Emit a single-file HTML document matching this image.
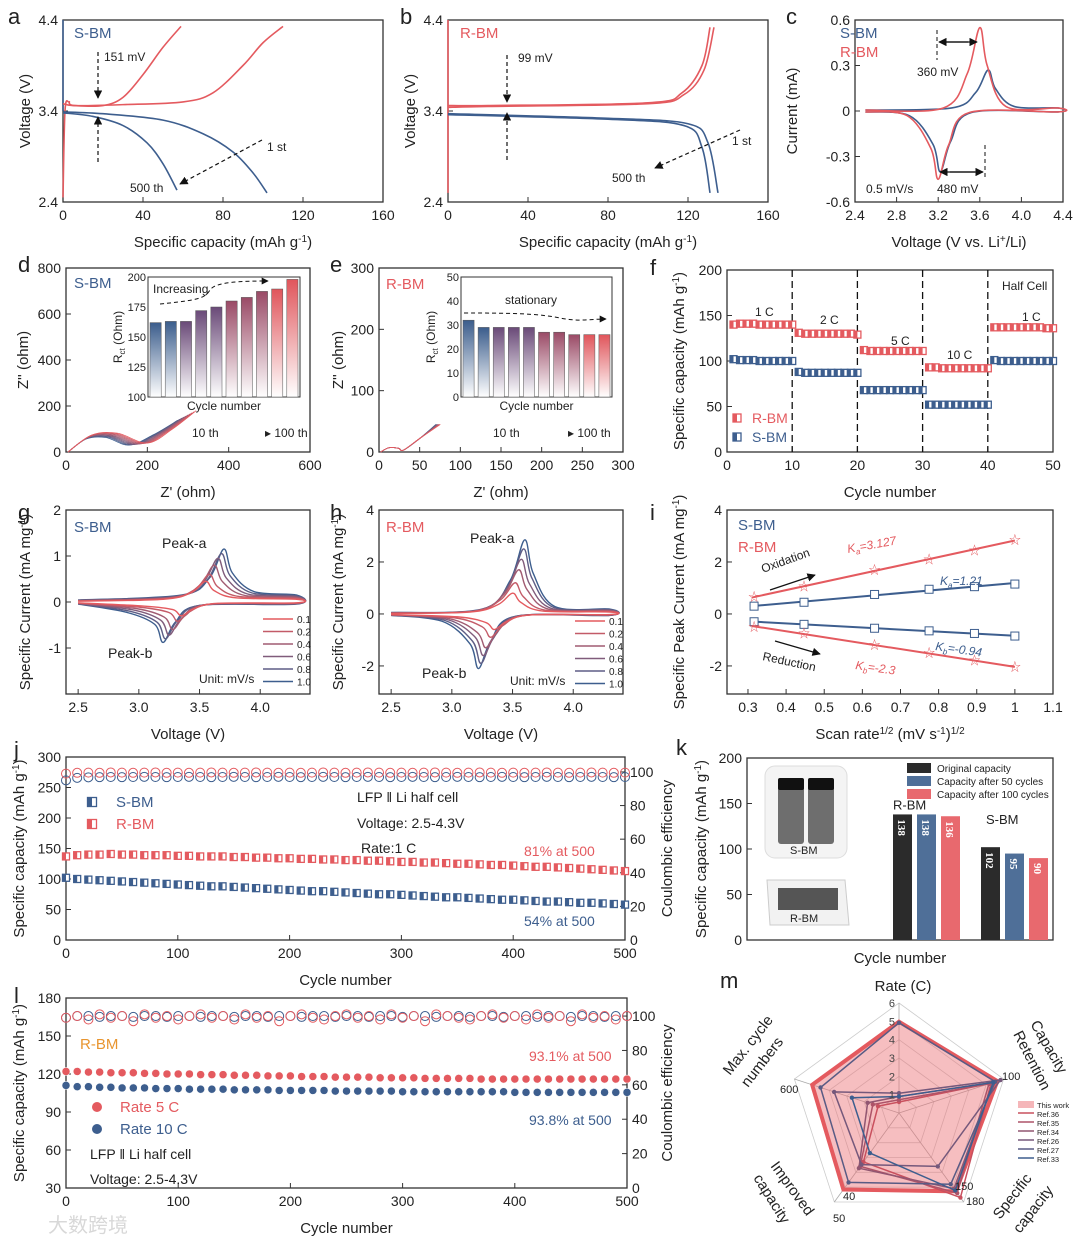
<!DOCTYPE html>
<html><head><meta charset="utf-8"><style>
html,body{margin:0;padding:0;background:#fff;}
svg{display:block;font-family:"Liberation Sans","Noto Sans CJK SC",sans-serif;}
</style></head><body>
<svg id="fig" width="1080" height="1245" viewBox="0 0 1080 1245">
<defs>
<marker id="ah" viewBox="0 0 10 10" refX="9" refY="5" markerWidth="7" markerHeight="7" orient="auto"><path d="M0,0L10,5L0,10z" fill="#111"/></marker>
<linearGradient id="gb" x1="0" y1="0" x2="0" y2="1"><stop offset="0" stop-color="#3b5d8c"/><stop offset="1" stop-color="#fff"/></linearGradient>
<linearGradient id="gp" x1="0" y1="0" x2="0" y2="1"><stop offset="0" stop-color="#6a4a78"/><stop offset="1" stop-color="#fff"/></linearGradient>
<linearGradient id="gm" x1="0" y1="0" x2="0" y2="1"><stop offset="0" stop-color="#9a4a66"/><stop offset="1" stop-color="#fff"/></linearGradient>
<linearGradient id="gr" x1="0" y1="0" x2="0" y2="1"><stop offset="0" stop-color="#e0555b"/><stop offset="1" stop-color="#fff"/></linearGradient>
</defs>
</svg>
<script>
// ---------- data ----------
const aChg1=[[0,2.45],[1,3.4],[3,3.5],[6,3.46],[30,3.47],[60,3.5],[75,3.6],[90,3.9],[100,4.15],[110,4.33]];
const aChg500=[[0,3.48],[5,3.46],[20,3.46],[30,3.55],[40,3.8],[50,4.1],[59,4.33]];
const aDis1=[[0,3.39],[20,3.37],[50,3.3],[70,3.15],[85,2.95],[95,2.72],[102,2.5]];
const aDis500=[[0,3.38],[15,3.34],[30,3.24],[42,3.05],[50,2.82],[57,2.53]];
const bChg1=[[0,3.44],[20,3.45],[100,3.48],[118,3.58],[128,3.85],[133,4.32]];
const bChg500=[[0,3.46],[20,3.46],[100,3.49],[117,3.6],[127,3.9],[131,4.32]];
const bDis1=[[0,3.37],[80,3.32],[120,3.26],[130,3.05],[135,2.5]];
const bDis500=[[0,3.36],[80,3.31],[118,3.24],[127,3.0],[131,2.5]];
const cRed=[3.6,0.55,3.2,-0.45];
const cBlue=[3.68,0.27,3.22,-0.40];
const dRct=[162,163,163,172,175,180,183,188,190,198];
const eRct=[32,29,29,29,29,27,27,26,26,26];
const dArc=[150,155,160,165,170,175,180,185,190,195];
const fR=[140,141,141,141,140,140,140,140,140,140,131,130,130,130,130,130,130,130,130,129,112,111,111,111,111,111,111,111,111,111,93,93,92,92,92,92,92,92,92,92,137,137,137,137,137,137,137,137,136,136];
const fS=[102,101,101,101,100,100,100,100,100,100,88,87,87,87,87,87,87,87,87,87,68,68,68,68,68,68,68,68,68,68,52,52,52,52,52,52,52,52,52,52,101,100,100,100,100,100,100,100,100,100];
const rates=['0.1','0.2','0.4','0.6','0.8','1.0'];
const gVa=[3.55,3.58,3.62,3.65,3.68,3.70], gIa=[0.45,0.6,0.8,0.95,1.05,1.15];
const gVc=[3.35,3.32,3.28,3.25,3.22,3.20], gIc=[-0.3,-0.42,-0.6,-0.72,-0.8,-0.88];
const hVa=[3.50,3.52,3.55,3.57,3.59,3.60], hIa=[0.8,1.2,1.7,2.1,2.5,2.85];
const hVc=[3.35,3.32,3.28,3.26,3.24,3.22], hIc=[-0.6,-0.9,-1.3,-1.6,-1.9,-2.1];
const iX=[0.316,0.447,0.632,0.775,0.894,1.0];
const iOxR=[0.65,1.05,1.7,2.1,2.45,2.85], iOxS=[0.3,0.45,0.75,0.95,1.05,1.15];
const iRdS=[-0.3,-0.4,-0.55,-0.65,-0.75,-0.85], iRdR=[-0.5,-0.75,-1.2,-1.5,-1.8,-2.05];
const jR=[137,139,140,140,141,140,140,139,139,139,138,138,137,137,137,136,136,135,135,134,134,133,133,132,132,131,131,130,130,129,128,128,127,127,126,125,125,124,123,123,122,121,120,120,119,118,117,116,115,114,113];
const jS=[102,100,99,98,97,96,95,94,93,92,91,90,89,88,88,87,86,85,84,83,82,81,80,80,79,78,77,76,75,75,74,73,72,71,70,70,69,68,67,66,66,65,64,63,63,62,61,61,60,59,58];
const jCER=[99,99.5,99.6,99.5,99.7,99.6,99.5,99.6,99.7,99.5,99.6,99.5,99.6,99.7,99.6,99.5,99.6,99.7,99.6,99.5,99.6,99.5,99.6,99.7,99.6,99.5,99.6,99.7,99.6,99.5,99.6,99.5,99.6,99.7,99.6,99.5,99.6,99.7,99.6,99.5,99.6,99.5,99.6,99.7,99.6,99.5,99.6,99.7,99.6,99.5,99.6];
const jCES=[95,96.5,96.8,96.9,97,96.9,97,97.1,97,96.9,97,97.1,97,96.9,97,97.1,97,96.9,97,97.1,97,96.9,97,97.1,97,96.9,97,97.1,97,96.9,97,97.1,97,96.9,97,97.1,97,96.9,97,97.1,97,96.9,97,97.1,97,96.9,97,97.1,97,96.9,97];
const lR=[122,122,121.5,121.5,121,121,121,120.5,120.5,120,120,120,119.5,119.5,119.5,119,119,119,118.5,118.5,118.5,118,118,118,117.5,117.5,117.5,117.5,117,117,117,117,116.5,116.5,116.5,116.5,116.5,116,116,116,116,116,116,116,116,116,116,116,116,116,116];
const lS=[111,110,110,109.5,109.5,109,109,109,108.5,108.5,108.5,108,108,108,108,107.5,107.5,107.5,107.5,107,107,107,107,107,106.5,106.5,106.5,106.5,106.5,106.5,106,106,106,106,106,106,106,106,106,106,105.5,105.5,105.5,105.5,105.5,105.5,105.5,105.5,105.5,105.5,105.5];
const lCER=[99,100,98,101,99,100,97,101,99,100,98,100,101,99,100,98,101,99,100,97,100,101,99,98,100,101,99,100,98,101,99,100,97,101,100,99,98,100,101,99,100,98,101,99,100,97,101,99,100,98,100];
const lCES=[99,100,100,99.5,100,100,99.5,100,100,99.5,100,100,99.5,100,100,99.5,100,100,99.5,100,100,99.5,100,100,99.5,100,100,99.5,100,100,99.5,100,100,99.5,100,100,99.5,100,100,99.5,100,100,99.5,100,100,99.5,100,100,99.5,100,100];
const kGroups=['R-BM','S-BM'];
const kOrig=[138,102], k50=[138,95], k100=[136,90];
const mAxes=['Rate (C)','Capacity Retention','Specific capacity','Improved capacity','Max. cycle numbers'];
const mNames=['This work','Ref.36','Ref.35','Ref.34','Ref.26','Ref.27','Ref.33'];
const mVals=[[0.83,0.94,0.88,0.86,0.83],[0.1,0.88,0.95,0.55,0.2],[0.12,0.86,0.9,0.6,0.25],[0.15,0.9,0.85,0.62,0.3],[0.18,0.97,0.6,0.58,0.62],[0.82,0.92,0.8,0.78,0.75],[0.15,0.9,0.87,0.45,0.45]];

// ---------- helpers ----------
const NS='http://www.w3.org/2000/svg';
const svg=document.getElementById('fig');
const RED='#e45a5f', BLUE='#3d5e8e';
function mk(tag,at,par){const e=document.createElementNS(NS,tag);for(const k in at)e.setAttribute(k,at[k]);(par||svg).appendChild(e);return e;}
function txt(x,y,s,at,par){const t=mk('text',Object.assign({x:x,y:y,'font-size':14,fill:'#222'},at||{}),par);t.innerHTML=s;return t;}
function lin(d,r){return v=>r[0]+(v-d[0])/(d[1]-d[0])*(r[1]-r[0]);}
function smooth(p){let d='M'+p[0][0]+','+p[0][1];for(let i=0;i<p.length-1;i++){const p0=p[i-1]||p[i],p1=p[i],p2=p[i+1],p3=p[i+2]||p2;
d+=' C'+(p1[0]+(p2[0]-p0[0])/6)+','+(p1[1]+(p2[1]-p0[1])/6)+' '+(p2[0]-(p3[0]-p1[0])/6)+','+(p2[1]-(p3[1]-p1[1])/6)+' '+p2[0]+','+p2[1];}return d;}
const SUP=s=>'<tspan baseline-shift="super" font-size="10">'+s+'</tspan>';
function panel(name,letter,lx,ly,p){
 const g=mk('g',{});
 
 
 const sx=lin(p.xd,[p.x0,p.x1]), sy=lin(p.yd,[p.y1,p.y0]);
 const sy2=p.y2d?lin(p.y2d,[p.y1,p.y0]):null;
 mk('rect',{x:p.x0,y:p.y0,width:p.x1-p.x0,height:p.y1-p.y0,fill:'none',stroke:'#333','stroke-width':1.3},g);
 (p.xt||[]).forEach(v=>{const x=sx(v);mk('line',{x1:x,x2:x,y1:p.y1,y2:p.y1-5,stroke:'#333'},g);txt(x,p.y1+18,p.xf?p.xf(v):String(v),{'text-anchor':'middle'},g);});
 (p.yt||[]).forEach(v=>{const y=sy(v);mk('line',{x1:p.x0,x2:p.x0+5,y1:y,y2:y,stroke:'#333'},g);txt(p.x0-5,y+5,p.yf?p.yf(v):String(v),{'text-anchor':'end'},g);});
 if(sy2)(p.y2t||[]).forEach(v=>{const y=sy2(v);mk('line',{x1:p.x1,x2:p.x1-5,y1:y,y2:y,stroke:'#333'},g);txt(p.x1+5,y+5,String(v),{},g);});
 if(p.xlab)txt((p.x0+p.x1)/2,p.y1+45,p.xlab,{'text-anchor':'middle','font-size':15},g);
 if(p.ylab)txt(0,0,p.ylab,{'text-anchor':'middle','font-size':15,transform:'translate('+p.ylx+','+(p.y0+p.y1)/2+') rotate(-90)'},g);
 if(p.y2lab)txt(0,0,p.y2lab,{'text-anchor':'middle','font-size':15,transform:'translate('+p.y2x+','+(p.y0+p.y1)/2+') rotate(-90)'},g);
 const L=txt(lx,ly,letter,{'font-size':22},g);
 
 
 return {sx:sx,sy:sy,sy2:sy2,g:g};
}
function curve(P,pts,col,w,name){const e=mk('path',{d:smooth(pts.map(q=>[P.sx(q[0]),P.sy(q[1])])),fill:'none',stroke:col,'stroke-width':w||1.6},P.g);
 
 return e;}
function arrow(g,x1,y1,x2,y2,dash){mk('line',{x1:x1,y1:y1,x2:x2,y2:y2,stroke:'#111','stroke-width':1.2,'stroke-dasharray':dash?'4,3':'none','marker-end':'url(#ah)'},g);}
function mix(a,b,t){const pa=[parseInt(a.substr(1,2),16),parseInt(a.substr(3,2),16),parseInt(a.substr(5,2),16)],pb=[parseInt(b.substr(1,2),16),parseInt(b.substr(3,2),16),parseInt(b.substr(5,2),16)];return 'rgb('+pa.map((v,i)=>Math.round(v+(pb[i]-v)*t)).join(',')+')';}
const f1=v=>v.toFixed(1);

// ---------- a ----------
let P=panel('panel-a-charge-discharge-sbm','a',8,24,{x0:63,x1:383,y0:20,y1:202,xd:[0,160],yd:[2.4,4.4],xt:[0,40,80,120,160],yt:[2.4,3.4,4.4],yf:f1,xlab:'Specific capacity (mAh g'+SUP('-1')+')',ylab:'Voltage (V)',ylx:30});
mk('line',{x1:P.sx(0),x2:P.sx(0),y1:P.sy(4.4),y2:P.sy(3.4),stroke:BLUE,'stroke-width':1.6},P.g);
curve(P,aChg1,RED,1.6,'sbm-charge-1st');curve(P,aChg500,RED,1.6,'sbm-charge-500th');
curve(P,aDis1,BLUE,1.6,'sbm-discharge-1st');curve(P,aDis500,BLUE,1.6,'sbm-discharge-500th');
txt(74,38,'S-BM',{fill:BLUE,'font-size':15},P.g);txt(104,61,'151 mV',{'font-size':12},P.g);
arrow(P.g,98,52,98,98,true);arrow(P.g,98,162,98,117,true);
txt(267,151,'1 st',{'font-size':12},P.g);txt(130,192,'500 th',{'font-size':12},P.g);arrow(P.g,262,140,180,184,true);

// ---------- b ----------
P=panel('panel-b-charge-discharge-rbm','b',400,24,{x0:448,x1:768,y0:20,y1:202,xd:[0,160],yd:[2.4,4.4],xt:[0,40,80,120,160],yt:[2.4,3.4,4.4],yf:f1,xlab:'Specific capacity (mAh g'+SUP('-1')+')',ylab:'Voltage (V)',ylx:415});
mk('line',{x1:P.sx(0),x2:P.sx(0),y1:P.sy(4.4),y2:P.sy(2.5),stroke:RED,'stroke-width':1.6},P.g);
curve(P,bChg1,RED,1.6,'rbm-charge-1st');curve(P,bChg500,RED,1.6,'rbm-charge-500th');
curve(P,bDis1,BLUE,1.6,'rbm-discharge-1st');curve(P,bDis500,BLUE,1.6,'rbm-discharge-500th');
txt(460,38,'R-BM',{fill:RED,'font-size':15},P.g);txt(518,62,'99 mV',{'font-size':12},P.g);
arrow(P.g,507,55,507,102,true);arrow(P.g,507,160,507,113,true);
txt(732,145,'1 st',{'font-size':12},P.g);txt(612,182,'500 th',{'font-size':12},P.g);arrow(P.g,740,130,655,168,true);

// ---------- c ----------
P=panel('panel-c-cv','c',786,24,{x0:855,x1:1063,y0:20,y1:202,xd:[2.4,4.4],yd:[-0.6,0.6],xt:[2.4,2.8,3.2,3.6,4.0,4.4],xf:f1,yt:[-0.6,-0.3,0,0.3,0.6],xlab:'Voltage (V vs. Li'+SUP('+')+'/Li)',ylab:'Current (mA)',ylx:797});
function cvPts(Va,Ia,Vc,Ic,lo,hi,b){return [[lo,b*0.3],[Va-0.35,b],[Va-0.12,Ia*0.45],[Va,Ia],[Va+0.07,Ia*0.55],[Va+0.25,b*1.5],[hi,b],[hi,-b*0.3],[Vc+0.3,-b*0.5],[Vc+0.1,Ic*0.5],[Vc,Ic],[Vc-0.07,Ic*0.55],[Vc-0.3,-b*1.5],[lo,-b*0.3]];}
curve(P,cvPts(cBlue[0],cBlue[1],cBlue[2],cBlue[3],2.5,4.35,0.02),BLUE,1.6,'cv-sbm');
curve(P,cvPts(cRed[0],cRed[1],cRed[2],cRed[3],2.5,4.35,0.02),RED,1.6,'cv-rbm');
txt(840,38,'S-BM',{fill:BLUE,'font-size':15},P.g);txt(840,57,'R-BM',{fill:RED,'font-size':15},P.g);
txt(917,76,'360 mV',{'font-size':12},P.g);txt(937,193,'480 mV',{'font-size':12},P.g);txt(866,193,'0.5 mV/s',{'font-size':12},P.g);
mk('line',{x1:937,x2:937,y1:30,y2:60,stroke:'#111','stroke-dasharray':'4,3'},P.g);arrow(P.g,945,42,977,42);arrow(P.g,968,42,939,42);
mk('line',{x1:985,x2:985,y1:145,y2:180,stroke:'#111','stroke-dasharray':'4,3'},P.g);arrow(P.g,950,172,983,172);arrow(P.g,975,172,940,172);

// ---------- d ----------
P=panel('panel-d-nyquist-sbm','d',18,272,{x0:66,x1:310,y0:268,y1:452,xd:[0,600],yd:[0,800],xt:[0,200,400,600],yt:[0,200,400,600,800],xlab:"Z' (ohm)",ylab:"Z'' (ohm)",ylx:28});
dArc.forEach((r,i)=>{const c=mix('#3d5e8e','#e45a5f',i/9);const x0=5,xm=x0+r;
 const e=mk('path',{d:smooth([[P.sx(x0),P.sy(0)],[P.sx(x0+r*0.3),P.sy(r*0.38)],[P.sx(x0+r*0.62),P.sy(r*0.42)],[P.sx(xm),P.sy(r*0.2)],[P.sx(xm+60),P.sy(r*0.5)],[P.sx(xm+120),P.sy(r*0.92)]]),fill:'none',stroke:c,'stroke-width':0.8},P.g);
 
 });
txt(74,288,'S-BM',{fill:BLUE,'font-size':15},P.g);txt(192,437,'10 th',{'font-size':12},P.g);txt(265,437,'▸ 100 th',{'font-size':12},P.g);
function inset(g,x0,x1,y0,y1,yd,yt,vals){const sy=lin(yd,[y1,y0]);mk('rect',{x:x0,y:y0,width:x1-x0,height:y1-y0,fill:'#fff',stroke:'#333'},g);
 const bw=(x1-x0)/vals.length;vals.forEach((v,i)=>{const f=['url(#gb)','url(#gb)','url(#gp)','url(#gp)','url(#gp)','url(#gm)','url(#gm)','url(#gm)','url(#gr)','url(#gr)'][i];
 const b=mk('rect',{x:x0+i*bw+2,y:sy(v),width:bw-4,height:y1-sy(v),fill:f,stroke:'#555','stroke-width':0.5},g);
 
 });
 yt.forEach(v=>txt(x0-2,sy(v)+4,String(v),{'text-anchor':'end','font-size':11},g));
 txt((x0+x1)/2,y1+13,'Cycle number',{'text-anchor':'middle','font-size':12},g);
 txt(0,0,'R<tspan font-size="8" dy="3">ct</tspan><tspan dy="-3"> (Ohm)</tspan>',{'text-anchor':'middle','font-size':12,transform:'translate('+(x0-26)+','+(y0+y1)/2+') rotate(-90)'},g);}
inset(P.g,148,300,277,397,[100,200],[100,125,150,175,200],dRct);
txt(153,293,'Increasing',{'font-size':12},P.g);
mk('path',{d:'M160,304 C200,300 205,298 210,290 S240,281 268,281',fill:'none',stroke:'#111','stroke-dasharray':'4,3','marker-end':'url(#ah)'},P.g);

// ---------- e ----------
P=panel('panel-e-nyquist-rbm','e',330,272,{x0:379,x1:623,y0:268,y1:452,xd:[0,300],yd:[0,300],xt:[0,50,100,150,200,250,300],yt:[0,100,200,300],xlab:"Z' (ohm)",ylab:"Z'' (ohm)",ylx:343});
dArc.forEach((r,i)=>{const c=mix('#3d5e8e','#e45a5f',i/9);
 const e=mk('path',{d:smooth([[P.sx(2),P.sy(0)],[P.sx(12),P.sy(7)],[P.sx(24),P.sy(6)],[P.sx(30),P.sy(3)],[P.sx(50),P.sy(22)],[P.sx(70+i*0.6),P.sy(45)]]),fill:'none',stroke:c,'stroke-width':0.8},P.g);
 
 });
txt(386,289,'R-BM',{fill:RED,'font-size':15},P.g);txt(493,437,'10 th',{'font-size':12},P.g);txt(568,437,'▸ 100 th',{'font-size':12},P.g);
inset(P.g,461,612,277,397,[0,50],[0,10,20,30,40,50],eRct);
txt(505,304,'stationary',{'font-size':12},P.g);
mk('path',{d:'M464,313 C520,313 540,314 560,318 S590,319 606,319',fill:'none',stroke:'#111','stroke-dasharray':'4,3','marker-end':'url(#ah)'},P.g);

// ---------- f ----------
P=panel('panel-f-rate','f',650,275,{x0:727,x1:1053,y0:270,y1:452,xd:[0,50],yd:[0,200],xt:[0,10,20,30,40,50],yt:[0,50,100,150,200],xlab:'Cycle number',ylab:'Specific capacity (mAh g'+SUP('-1')+')',ylx:684});
[10,20,30,40].forEach(c=>mk('line',{x1:P.sx(c),x2:P.sx(c),y1:270,y2:452,stroke:'#111','stroke-dasharray':'7,4','stroke-width':1.3},P.g));
function sq(g,x,y,c,s){const a=mk('rect',{x:x-s/2,y:y-s/2,width:s,height:s,fill:'#fff',stroke:c,'stroke-width':1.3},g);mk('rect',{x:x-s/2,y:y-s/2,width:s/2,height:s,fill:c},g);return a;}
fR.forEach((v,i)=>{const m=sq(P.g,P.sx(i+1),P.sy(v),RED,7);
 
 });
fS.forEach((v,i)=>{const m=sq(P.g,P.sx(i+1),P.sy(v),BLUE,7);
 
 });
[['1 C',755,316],['2 C',820,324],['5 C',891,345],['10 C',947,359],['1 C',1022,321],['Half Cell',1002,290]].forEach(a=>txt(a[1],a[2],a[0],{'font-size':12},P.g));
sq(P.g,737,418,RED,8);txt(752,423,'R-BM',{fill:RED,'font-size':14},P.g);sq(P.g,737,437,BLUE,8);txt(752,442,'S-BM',{fill:BLUE,'font-size':14},P.g);

// ---------- g, h ----------
function cvSet(P,Va,Ia,Vc,Ic,b,nm){for(let i=rates.length-1;i>=0;i--){const c=mix('#e45a5f','#3d5e8e',i/5);
 curve(P,cvPts(Va[i],Ia[i],Vc[i],Ic[i],2.5,4.3,b*(0.5+i*0.15)),c,1.4,nm+'-'+rates[i]);}}
function rateLegend(g,x,y){rates.forEach((r,i)=>{const c=mix('#e45a5f','#3d5e8e',i/5);mk('line',{x1:x,x2:x+30,y1:y+i*12.5,y2:y+i*12.5,stroke:c,'stroke-width':1.5},g);txt(x+34,y+4+i*12.5,r,{'font-size':10},g);});}
P=panel('panel-g-cv-rates-sbm','g',18,520,{x0:66,x1:310,y0:510,y1:694,xd:[2.4,4.41],yd:[-2,2],xt:[2.5,3.0,3.5,4.0],xf:f1,yt:[-1,0,1,2],xlab:'Voltage (V)',ylab:'Specific Current (mA mg'+SUP('-1')+')',ylx:30});
cvSet(P,gVa,gIa,gVc,gIc,0.12,'cv-sbm');
txt(74,532,'S-BM',{fill:BLUE,'font-size':15},P.g);txt(162,548,'Peak-a',{'font-size':14},P.g);txt(108,658,'Peak-b',{'font-size':14},P.g);txt(199,683,'Unit: mV/s',{'font-size':12},P.g);
rateLegend(P.g,263,619);
P=panel('panel-h-cv-rates-rbm','h',330,520,{x0:379,x1:623,y0:510,y1:694,xd:[2.4,4.41],yd:[-3.08,4],xt:[2.5,3.0,3.5,4.0],xf:f1,yt:[-2,0,2,4],xlab:'Voltage (V)',ylab:'Specific Current (mA mg'+SUP('-1')+')',ylx:343});
cvSet(P,hVa,hIa,hVc,hIc,0.15,'cv-rbm');
txt(386,532,'R-BM',{fill:RED,'font-size':15},P.g);txt(470,543,'Peak-a',{'font-size':14},P.g);txt(422,678,'Peak-b',{'font-size':14},P.g);txt(510,685,'Unit: mV/s',{'font-size':12},P.g);
rateLegend(P.g,575,621);

// ---------- i ----------
P=panel('panel-i-peak-current','i',650,520,{x0:727,x1:1053,y0:510,y1:694,xd:[0.245,1.1],yd:[-3.08,4],xt:[0.3,0.4,0.5,0.6,0.7,0.8,0.9,1.0,1.1],yt:[-2,0,2,4],xlab:'Scan rate'+SUP('1/2')+' (mV s'+SUP('-1')+')'+SUP('1/2'),ylab:'Specific Peak Current (mA mg'+SUP('-1')+')',ylx:684});
function fitLine(ys,c,nm,star){const n=iX.length,mx=iX.reduce((a,b)=>a+b)/n,my=ys.reduce((a,b)=>a+b)/n;let sxy=0,sxx=0;iX.forEach((x,i)=>{sxy+=(x-mx)*(ys[i]-my);sxx+=(x-mx)*(x-mx);});const k=sxy/sxx,b=my-k*mx;
 const l=mk('line',{x1:P.sx(0.31),y1:P.sy(k*0.31+b),x2:P.sx(1.0),y2:P.sy(k+b),stroke:c,'stroke-width':2},P.g);
 
 
 ys.forEach((v,i)=>{const m=star?txt(P.sx(iX[i]),P.sy(v)+4,'☆',{'text-anchor':'middle','font-size':12,fill:c},P.g):mk('rect',{x:P.sx(iX[i])-4,y:P.sy(v)-4,width:8,height:8,fill:'#fff',stroke:c},P.g);
 
 });}
fitLine(iOxR,RED,'rbm-oxidation',true);fitLine(iOxS,BLUE,'sbm-oxidation',false);fitLine(iRdS,BLUE,'sbm-reduction',false);fitLine(iRdR,RED,'rbm-reduction',true);
txt(738,530,'S-BM',{fill:BLUE,'font-size':15},P.g);txt(738,552,'R-BM',{fill:RED,'font-size':15},P.g);
txt(0,0,'Oxidation',{'font-size':12,transform:'translate(763,573) rotate(-20)'},P.g);arrow(P.g,770,590,815,575);
txt(0,0,'Reduction',{'font-size':12,transform:'translate(762,660) rotate(12)'},P.g);arrow(P.g,775,641,820,654);
txt(848,553,'K<tspan font-size="8" dy="3">a</tspan><tspan dy="-3">=3.127</tspan>',{fill:RED,'font-size':12,'font-style':'italic',transform:'rotate(-10 848 553)'},P.g);
txt(940,585,'K<tspan font-size="8" dy="3">a</tspan><tspan dy="-3">=1.21</tspan>',{fill:BLUE,'font-size':12,'font-style':'italic'},P.g);
txt(935,650,'K<tspan font-size="8" dy="3">b</tspan><tspan dy="-3">=-0.94</tspan>',{fill:BLUE,'font-size':12,'font-style':'italic',transform:'rotate(8 935 650)'},P.g);
txt(855,669,'K<tspan font-size="8" dy="3">b</tspan><tspan dy="-3">=-2.3</tspan>',{fill:RED,'font-size':12,'font-style':'italic',transform:'rotate(8 855 669)'},P.g);

// ---------- j ----------
P=panel('panel-j-cycling-1c','j',14,757,{x0:66,x1:625,y0:757,y1:940,xd:[0,500],yd:[0,300],xt:[0,100,200,300,400,500],yt:[0,50,100,150,200,250,300],y2d:[0,108.9],y2t:[0,20,40,60,80,100],xlab:'Cycle number',ylab:'Specific capacity (mAh g'+SUP('-1')+')',ylx:24,y2lab:'Coulombic efficiency',y2x:672});
function cyc(P,arr,yfun,c,nm,kind){arr.forEach((v,i)=>{const x=P.sx(i*10),y=yfun(v);let m;
 if(kind==='sq')m=sq(P.g,x,y,c,7);else if(kind==='oc')m=mk('circle',{cx:x,cy:y,r:4.5,fill:'none',stroke:c,'stroke-width':1},P.g);else m=mk('circle',{cx:x,cy:y,r:4,fill:c,stroke:'#fff','stroke-width':0.5},P.g);
 
 });}
cyc(P,jCES,P.sy2,BLUE,'sbm-ce-point','oc');cyc(P,jCER,P.sy2,RED,'rbm-ce-point','oc');
cyc(P,jR,P.sy,RED,'rbm-capacity-point','sq');cyc(P,jS,P.sy,BLUE,'sbm-capacity-point','sq');
sq(P.g,92,802,BLUE,9);txt(116,807,'S-BM',{fill:BLUE,'font-size':15},P.g);sq(P.g,92,824,RED,9);txt(116,829,'R-BM',{fill:RED,'font-size':15},P.g);
txt(357,802,'LFP ǁ Li half cell',{'font-size':14},P.g);txt(357,828,'Voltage: 2.5-4.3V',{'font-size':14},P.g);txt(361,853,'Rate:1 C',{'font-size':14},P.g);
txt(524,856,'81% at 500',{fill:RED,'font-size':14},P.g);txt(524,926,'54% at 500',{fill:BLUE,'font-size':14},P.g);

// ---------- k ----------
P=panel('panel-k-bars','k',676,755,{x0:747,x1:1053,y0:758,y1:940,xd:[0,1],yd:[0,200],yt:[0,50,100,150,200],ylab:'Specific capacity (mAh g'+SUP('-1')+')',ylx:706});
txt(900,963,'Cycle number',{'text-anchor':'middle','font-size':15},P.g);
const kSer=[kOrig,k50,k100],kCol=['#2b2b2b','#4f6f98','#e8696e'],kBase=[893,981];
kGroups.forEach((gname,gi)=>{kSer.forEach((s,si)=>{const x=kBase[gi]+si*24,y=P.sy(s[gi]);
 const b=mk('rect',{x:x,y:y,width:19,height:940-y,fill:kCol[si]},P.g);
 
 
 txt(0,0,String(s[gi]),{fill:'#fff','font-size':11,'font-weight':'bold','font-family':'Liberation Serif',transform:'translate('+(x+5)+','+(y+5)+') rotate(90)'},P.g);});
 txt(kBase[gi]+(gi?5:0),P.sy(kOrig[gi])-5-(gi?18:0),gname,{'font-size':13},P.g);});
[['Original capacity',0],['Capacity after 50 cycles',1],['Capacity after 100 cycles',2]].forEach(a=>{mk('rect',{x:907,y:763+a[1]*13,width:24,height:10,fill:kCol[a[1]]},P.g);txt(937,772+a[1]*13,a[0],{'font-size':10},P.g);});
mk('rect',{x:765,y:766,width:82,height:92,rx:10,fill:'#f4f4f4',stroke:'#ddd'},P.g);
mk('rect',{x:778,y:782,width:26,height:62,rx:3,fill:'#6e6e6e'},P.g);mk('rect',{x:808,y:782,width:26,height:62,rx:3,fill:'#6e6e6e'},P.g);
mk('rect',{x:778,y:778,width:26,height:12,rx:2,fill:'#111'},P.g);mk('rect',{x:808,y:778,width:26,height:12,rx:2,fill:'#111'},P.g);
txt(790,854,'S-BM',{'font-size':11},P.g);
mk('path',{d:'M767,880 L845,880 L849,925 L770,925 Z',fill:'#f2f2f2',stroke:'#ccc'},P.g);mk('rect',{x:778,y:888,width:60,height:22,fill:'#555'},P.g);txt(790,922,'R-BM',{'font-size':11},P.g);

// ---------- l ----------
P=panel('panel-l-cycling-high-rate','l',14,1003,{x0:66,x1:627,y0:998,y1:1188,xd:[0,500],yd:[30,180],xt:[0,100,200,300,400,500],yt:[30,60,90,120,150,180],y2d:[0,110.5],y2t:[0,20,40,60,80,100],xlab:'Cycle number',ylab:'Specific capacity (mAh g'+SUP('-1')+')',ylx:24,y2lab:'Coulombic efficiency',y2x:672});
cyc(P,lCES,P.sy2,BLUE,'sbm-ce-point','oc');cyc(P,lCER,P.sy2,RED,'rbm-ce-point','oc');
cyc(P,lR,P.sy,RED,'rbm-capacity-point','c');cyc(P,lS,P.sy,BLUE,'sbm-capacity-point','c');
txt(80,1049,'R-BM',{fill:'#e8952f','font-size':15},P.g);
mk('circle',{cx:97,cy:1107,r:5,fill:RED},P.g);txt(120,1112,'Rate 5 C',{fill:RED,'font-size':15},P.g);
mk('circle',{cx:97,cy:1129,r:5,fill:BLUE},P.g);txt(120,1134,'Rate 10 C',{fill:BLUE,'font-size':15},P.g);
txt(90,1159,'LFP ǁ Li half cell',{'font-size':14},P.g);txt(90,1184,'Voltage: 2.5-4.3V',{'font-size':14},P.g);
txt(529,1061,'93.1% at 500',{fill:RED,'font-size':14},P.g);txt(529,1125,'93.8% at 500',{fill:BLUE,'font-size':14},P.g);

// ---------- m radar ----------
const mg=mk('g',{});


const CX=899,CY=1113,RR=110;
txt(720,988,'m',{'font-size':22},mg);
const ang=k=>(-90+72*k)*Math.PI/180;
const pt=(k,r)=>[CX+RR*r*Math.cos(ang(k)),CY+RR*r*Math.sin(ang(k))];
for(let l=1;l<=6;l++){mk('polygon',{points:[0,1,2,3,4].map(k=>pt(k,l/6).join(',')).join(' '),fill:'none',stroke:'#ccc','stroke-width':0.8},mg);}
[0,1,2,3,4].forEach(k=>{const p=pt(k,1);mk('line',{x1:CX,y1:CY,x2:p[0],y2:p[1],stroke:'#aaa','stroke-width':0.8},mg);});
mVals.forEach((vals,si)=>{const pts=vals.map((v,k)=>pt(k,v).join(',')).join(' ');
 const c=si===0?RED:mix('#c9505e','#3d5e8e',(si-1)/5);
 const p=mk('polygon',{points:pts,fill:si===0?'rgba(236,110,115,0.45)':'none',stroke:c,'stroke-width':si===0?4:1.5},mg);
 
 
 if(si)vals.forEach((v,k)=>{const q=pt(k,v);mk('circle',{cx:q[0],cy:q[1],r:2.2,fill:c},mg);});});
[1,2,3,4,5,6].forEach(v=>txt(CX-4,CY-RR*v/6+4,String(v),{'font-size':11,'text-anchor':'end',fill:'#444'},mg));
txt(903,991,'Rate (C)',{'font-size':15,'text-anchor':'middle'},mg);
txt(0,0,'Capacity',{'font-size':15,transform:'translate(1030,1024) rotate(60)'},mg);txt(0,0,'Retention',{'font-size':15,transform:'translate(1013,1034) rotate(63)'},mg);
txt(0,0,'Specific',{'font-size':15,transform:'translate(1000,1220) rotate(-52)'},mg);txt(0,0,'capacity',{'font-size':15,transform:'translate(1020,1234) rotate(-52)'},mg);
txt(0,0,'Improved',{'font-size':15,transform:'translate(770,1166) rotate(54)'},mg);txt(0,0,'capacity',{'font-size':15,transform:'translate(753,1178) rotate(58)'},mg);
txt(0,0,'Max. cycle',{'font-size':15,transform:'translate(730,1076) rotate(-52)'},mg);txt(0,0,'numbers',{'font-size':15,transform:'translate(748,1088) rotate(-52)'},mg);
[['600',780,1093],['100',1002,1080],['180',966,1205],['50',833,1222],['40',843,1200],['150',955,1190]].forEach(a=>txt(a[1],a[2],a[0],{'font-size':11},mg));
mNames.forEach((n,i)=>{const c=i===0?RED:mix('#c9505e','#3d5e8e',(i-1)/5);
 if(i===0)mk('rect',{x:1018,y:1101,width:16,height:7,fill:'rgba(236,110,115,0.5)'},mg);else mk('line',{x1:1018,x2:1034,y1:1104+i*9,y2:1104+i*9,stroke:c,'stroke-width':1.5},mg);
 txt(1037,1108+i*9,n,{'font-size':7.5},mg);});

// watermark
txt(48,1232,'大数跨境',{'font-size':20,fill:'#d8d8d8','font-family':'"Noto Sans CJK SC",sans-serif'});
</script>
</body></html>
